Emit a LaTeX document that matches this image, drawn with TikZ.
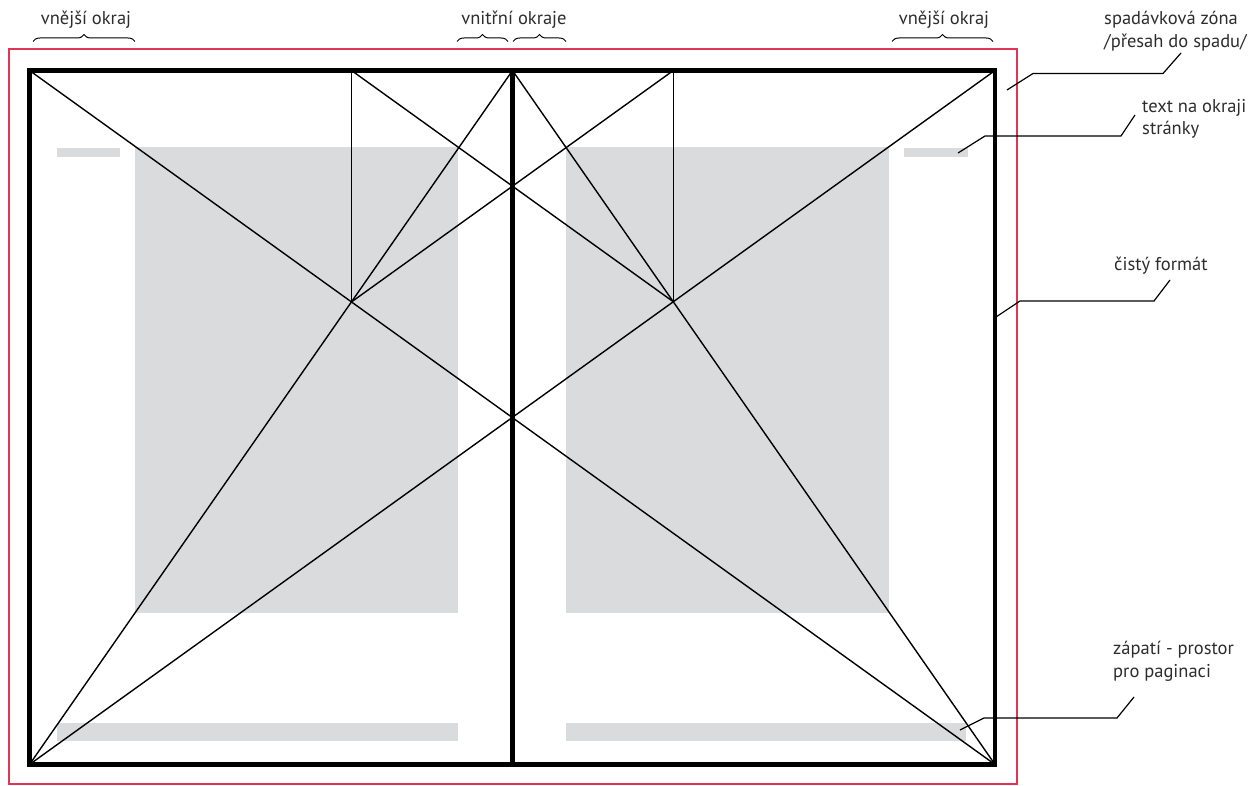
\documentclass[tikz,border=0pt]{standalone}
\usepackage{fontspec}
\setmainfont{PT Sans}
\usetikzlibrary{decorations.pathreplacing}
\definecolor{blockgray}{RGB}{218,219,221}
\definecolor{bleedred}{RGB}{226,52,84}
\definecolor{txt}{RGB}{45,45,45}
\begin{document}
\begin{tikzpicture}[x=1pt,y=-1pt,
  frame/.style={line width=4.6pt,line cap=rect},
  thin/.style={line width=1.4pt},
  bleed/.style={draw=bleedred,line width=1.2pt},
  block/.style={fill=blockgray},
  leader/.style={line width=1.2pt,line join=miter},
  lbl/.style={font=\fontsize{18.5}{22}\selectfont,text=txt,anchor=base west,inner sep=0pt},
  toplbl/.style={font=\fontsize{18.5}{22}\selectfont,text=txt,anchor=base,inner sep=0pt},
  brc/.style={decorate,decoration={brace,amplitude=7pt},line width=1pt}]
\useasboundingbox (0,0) rectangle (1253,786);
% bleed
\draw[bleed] (9,49) rectangle (1017,784);
% text blocks
\fill[block] (135,147) rectangle (458,613);
\fill[block] (566,147) rectangle (889,613);
\fill[block] (57,148) rectangle (120,157);
\fill[block] (904,148) rectangle (968,157);
\fill[block] (57,723) rectangle (458,741);
\fill[block] (566,723) rectangle (966,741);
% corners
\coordinate (TL) at (29.5,70.5);
\coordinate (TR) at (995,70.5);
\coordinate (BL) at (29.5,764.5);
\coordinate (BR) at (995,764.5);
\coordinate (MT) at (512.5,70.5);
\coordinate (MB) at (512.5,764.5);
\coordinate (P1) at (intersection of TL--BR and BL--MT);
\coordinate (P2) at (intersection of BL--TR and MT--BR);
\coordinate (V1) at (P1 |- TL);
\coordinate (V2) at (P2 |- TL);
% construction lines
\draw[thin] (TL) -- (BR);
\draw[thin] (BL) -- (TR);
\draw[thin] (BL) -- (MT);
\draw[thin] (MT) -- (BR);
\draw[thin] (V1) -- (P1);
\draw[thin] (V2) -- (P2);
\draw[thin] (V1) -- (P2);
\draw[thin] (V2) -- (P1);
% frame
\draw[frame] (TL) rectangle (BR);
\draw[frame] (MT) -- (MB);
% top labels and braces
\node[toplbl] (outL) at (86,25) {vnější okraj};
\node[toplbl] (inn) at (514,25) {vnitřní okraje};
\node[toplbl] (outR) at (944,25) {vnější okraj};
\draw[brc] (33,41.5) -- (135,41.5);
\draw[brc] (457,41.5) -- (508,41.5);
\draw[brc] (513,41.5) -- (566,41.5);
\draw[brc] (892,41.5) -- (993,41.5);
% right labels
\node[lbl] (spad1) at (1104,25) {spadávková zóna};
\node[lbl] (spad2) at (1104,48) {/přesah do spadu/};
\node[lbl] (okr1) at (1142,113) {text na okraji};
\node[lbl] (okr2) at (1142,135) {stránky};
\node[lbl] (cist) at (1114,271) {čistý formát};
\node[lbl] (zap1) at (1113,654) {zápatí - prostor};
\node[lbl] (zap2) at (1113,677) {pro paginaci};
% leaders
\coordinate (a1) at (1007,90);
\coordinate (a2) at (1181,53);
\draw[leader] (a1) -- (1033,73.5) -- (1163,73.5) -- (a2);
\coordinate (b1) at (958,153);
\coordinate (b2) at (1135,115);
\draw[leader] (b1) -- (985,136) -- (1121,136) -- (b2);
\coordinate (c1) at (996,317);
\coordinate (c2) at (1170,280);
\draw[leader] (c1) -- (1020,301) -- (1154,301) -- (c2);
\coordinate (d1) at (960,730);
\coordinate (d2) at (1134,697);
\draw[leader] (d1) -- (984,718) -- (1117,718) -- (d2);
\end{tikzpicture}
\end{document}
